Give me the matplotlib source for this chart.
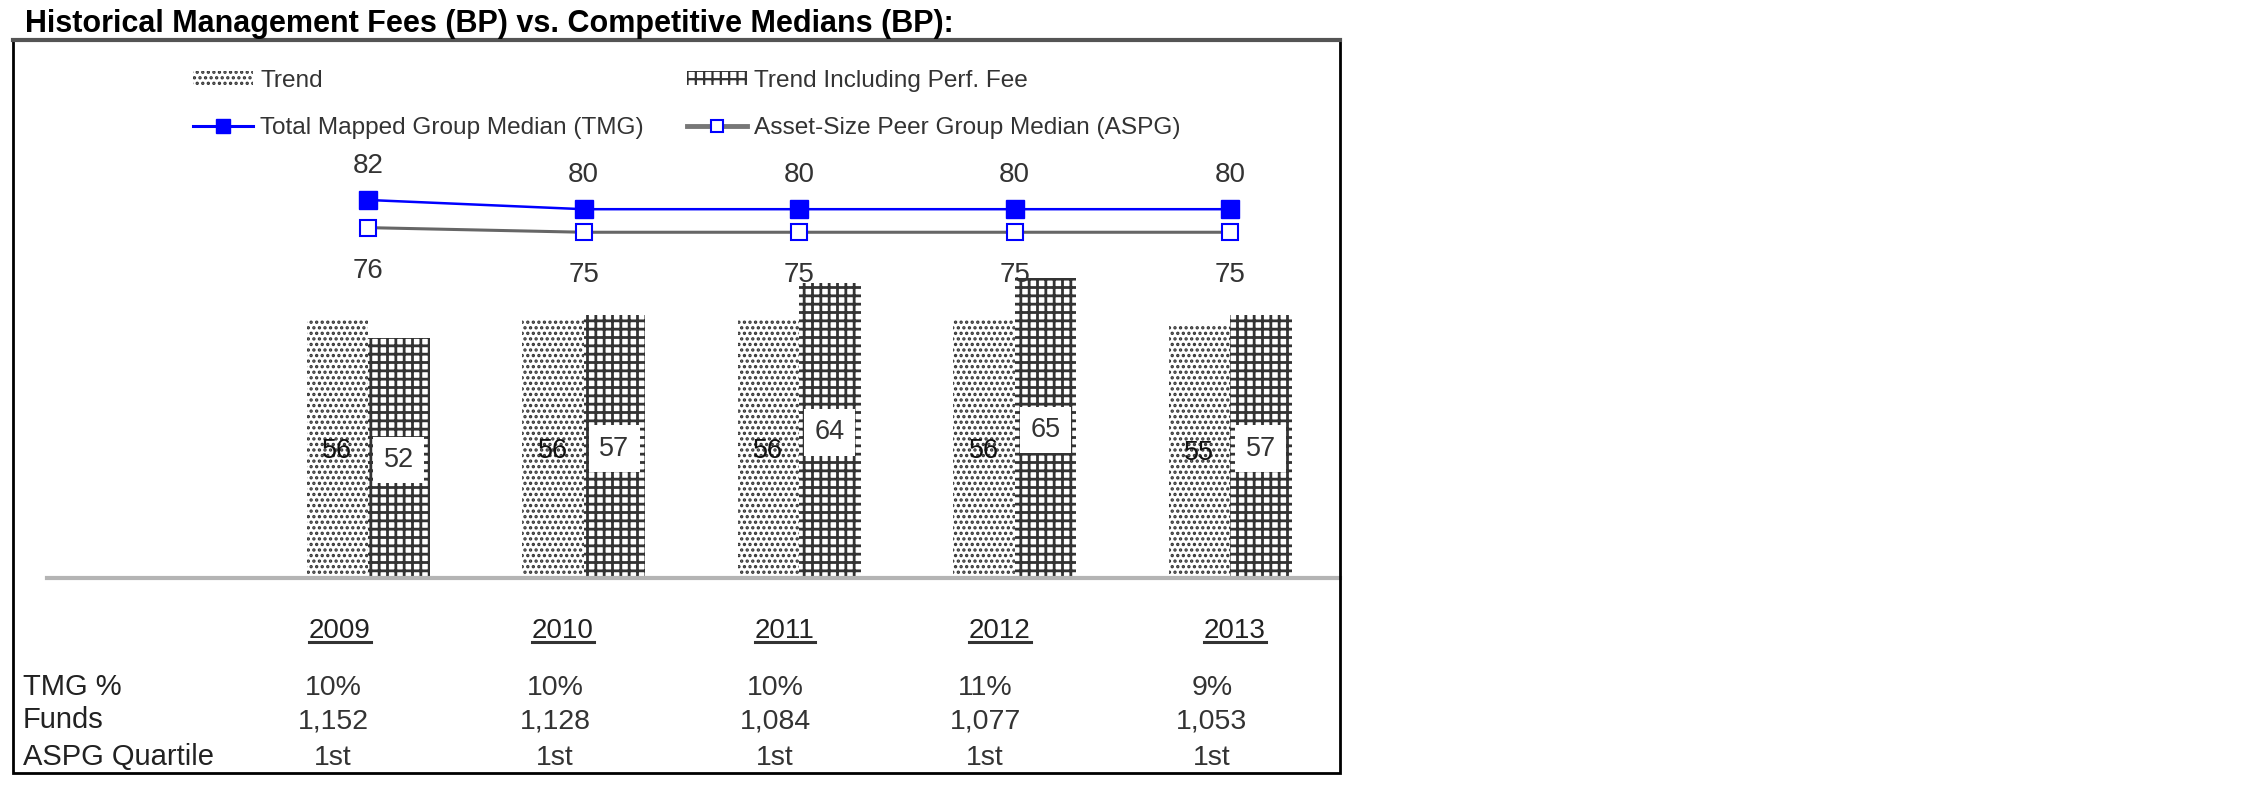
import matplotlib
matplotlib.use('Agg')
import matplotlib.pyplot as plt
from matplotlib.patches import Patch, Rectangle
from matplotlib.lines import Line2D

plt.rcParams['font.family'] = 'Liberation Sans'
plt.rcParams['hatch.linewidth'] = 1.6

# data
years = ['2009', '2010', '2011', '2012', '2013']
trend = [56, 56, 56, 56, 55]
trend_perf = [52, 57, 64, 65, 57]
tmg_median = [82, 80, 80, 80, 80]
aspg_median = [76, 75, 75, 75, 75]
tmg_pct = ['10%', '10%', '10%', '11%', '9%']
funds = ['1,152', '1,128', '1,084', '1,077', '1,053']
aspg_quartile = ['1st', '1st', '1st', '1st', '1st']

W, H = 2250, 796
fig = plt.figure(figsize=(W / 100, H / 100), dpi=100)


def fx(px):
    return px / W


def fy(py):
    return 1 - py / H


# plot area: baseline at 578px, about 4.61px per bp
ax = fig.add_axes([fx(47), fy(578), fx(1293), 538 / H])
ax.set_xlim(-1.49, 4.51)
ax.set_ylim(0, 538 / 4.61)
ax.axis('off')

x = list(range(len(years)))
w = 0.285
with plt.rc_context({'hatch.linewidth': 1.6}):
    bars_t = ax.bar([i - w / 2 for i in x], trend, width=w, facecolor='white',
                    edgecolor='#333333', hatch='...', linewidth=0)
with plt.rc_context({'hatch.linewidth': 2.0}):
    bars_p = ax.bar([i + w / 2 for i in x], trend_perf, width=w, facecolor='white',
                    edgecolor='#333333', hatch='++', linewidth=0)
ax.axhline(0, color='#b4b4b4', lw=3, clip_on=False)

ax.plot(x, tmg_median, color='#0000ff', lw=1.8, marker='s', ms=13,
        mfc='#0000ff', mec='#0000ff', zorder=5)
ax.plot(x, aspg_median, color='#666666', lw=2.2, marker='s', ms=12,
        mfc='white', mec='#0000ff', mew=1.5, zorder=4)

# value labels
for i in x:
    ax.annotate(str(tmg_median[i]), (i, tmg_median[i]), xytext=(0, 27),
                textcoords='offset pixels', ha='center', va='baseline',
                fontsize=20, color='#333333', zorder=6)
    ax.annotate(str(aspg_median[i]), (i, aspg_median[i]), xytext=(0, -50),
                textcoords='offset pixels', ha='center', va='baseline',
                fontsize=20, color='#333333', zorder=6)

for b, v in zip(bars_t, trend):
    ax.annotate(str(v), (b.get_x() + b.get_width() / 2, v / 2), xytext=(0, -9),
                textcoords='offset pixels', ha='center', va='baseline',
                fontsize=19.5, color='#111111', zorder=6)
for b, v in zip(bars_p, trend_perf):
    ax.annotate(str(v), (b.get_x() + b.get_width() / 2, v / 2), xytext=(0, -9),
                textcoords='offset pixels', ha='center', va='baseline',
                fontsize=19.5, color='#333333', zorder=6,
                bbox=dict(boxstyle='square,pad=0.38', fc='white', ec='none'))

# legend
with plt.rc_context({'hatch.linewidth': 1.6}):
    h_trend = Patch(facecolor='white', edgecolor='#333333', hatch='...', lw=0, label='Trend')
with plt.rc_context({'hatch.linewidth': 2.0}):
    h_perf = Patch(facecolor='white', edgecolor='#333333', hatch='++', lw=0,
                   label='Trend Including Perf. Fee')
handles = [
    h_trend,
    Line2D([], [], color='#0000ff', lw=2.2, marker='s', ms=9.5, mfc='#0000ff',
           mec='#0000ff', label='Total Mapped Group Median (TMG)'),
    h_perf,
    Line2D([], [], color='#777777', lw=3.5, marker='s', ms=9, mfc='white',
           mec='#0000ff', mew=1.5, label='Asset-Size Peer Group Median (ASPG)'),
]
fig.legend(handles=handles, loc='upper left', bbox_to_anchor=(fx(193), fy(70)),
           ncol=2, frameon=False, fontsize=17.6, handlelength=2.45, handleheight=0.5,
           handletextpad=0.3, columnspacing=1.76, labelspacing=1.03,
           borderpad=0, borderaxespad=0, labelcolor='#333333')

# title and frame
fig.text(fx(25), fy(32), 'Historical Management Fees (BP) vs. Competitive Medians (BP):',
         fontsize=22, fontweight='bold', ha='left', va='baseline')
fig.add_artist(Rectangle((fx(13), fy(773)), fx(1327), (773 - 40) / H,
                         transform=fig.transFigure, fill=False, lw=2, ec='black'))
fig.add_artist(Line2D([fx(13), fx(1340)], [fy(40), fy(40)], color='#555555', lw=3,
                      transform=fig.transFigure))

# table under the chart
year_x = [340, 563, 785, 1000, 1235]
val_x = [333, 555, 775, 985, 1212]
year_texts = []
for px, yr in zip(year_x, years):
    year_texts.append(fig.text(fx(px), fy(638), yr, fontsize=20, color='#222222',
                               ha='center', va='baseline'))

rows = [('TMG %', tmg_pct, 695), ('Funds', funds, 728), ('ASPG Quartile', aspg_quartile, 765)]
for name, vals, py in rows:
    fig.text(fx(23), fy(py), name, fontsize=21, color='#222222', ha='left', va='baseline')
    for px, v in zip(val_x, vals):
        fig.text(fx(px), fy(py), v, fontsize=20.5, color='#333333', ha='center', va='baseline')

# underline the year headers
fig.canvas.draw()
renderer = fig.canvas.get_renderer()
for t in year_texts:
    bb = t.get_window_extent(renderer)
    fig.add_artist(Line2D([bb.x0 / W, bb.x1 / W], [fy(642), fy(642)], color='#333333',
                          lw=2.2, transform=fig.transFigure))

fig.savefig('out.png', dpi=100)
